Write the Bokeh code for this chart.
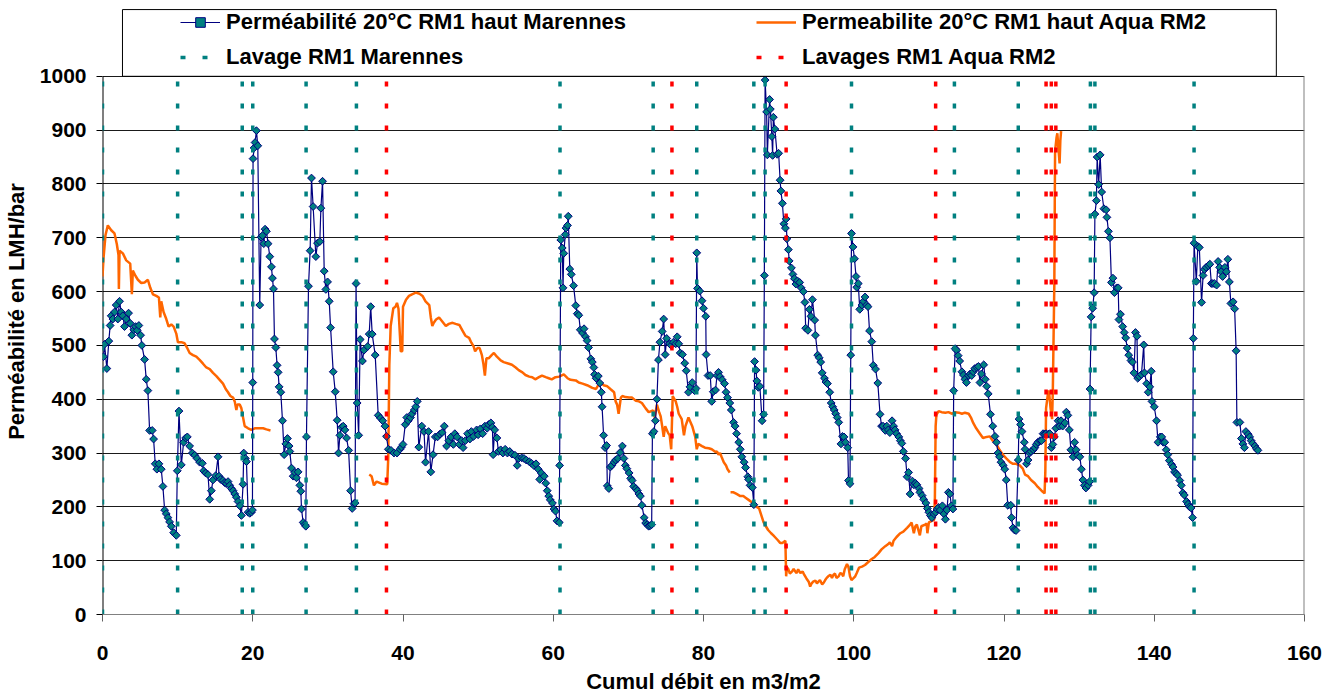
import numpy as np
from bokeh.plotting import figure
from bokeh.models import Legend, LegendItem, BoxAnnotation, Range1d, FixedTicker
from bokeh.embed import file_html
from bokeh.resources import INLINE

# ---------------- data ----------------
perm_x = [0.13,0.27,0.58,0.84,1.02,1.16,1.38,1.6,1.82,2.04,2.27,2.49,2.71,2.93,3.16,3.47,3.69,3.91,4.18,4.4,4.62,4.84,5.07,5.24,5.6,5.82,6.04,6.27,6.62,6.8,7.02,7.24,7.51,7.82,8.04,8.27,8.49,8.71,8.93,9.16,9.47,9.82,
  9.96,10.18,10.49,10.8,11.07,11.29,11.6,11.96,12.27,12.58,12.93,13.29,13.47,13.73,14.04,14.27,14.49,14.71,15.07,15.38,15.51,15.73,16.04,16.27,16.49,16.71,16.93,17.16,17.38,17.6,17.82,18.04,18.27,18.49,
  18.71,18.8,19.02,19.16,19.38,19.6,19.82,19.96,
  20.0,20.04,20.18,20.31,20.49,20.67,20.93,21.11,21.29,21.47,21.64,21.82,22.04,22.27,22.49,22.62,22.76,22.89,23.07,23.24,23.38,23.51,23.73,23.96,24.18,24.4,24.62,24.84,24.93,25.16,25.38,25.6,25.82,26.04,26.27,26.4,26.49,26.71,26.93,27.06,
  27.15,27.42,27.64,27.82,28.04,28.4,28.62,28.93,29.07,29.29,29.51,29.73,29.96,30.18,30.36,30.71,30.98,31.24,31.42,31.6,31.82,32.04,32.27,32.49,32.76,33.02,33.24,33.47,33.62,
  33.75,33.9,34.1,34.3,34.6,34.8,35.3,35.5,35.7,35.9,36.3,36.7,37.0,37.3,37.6,37.8,38.05,38.4,38.8,39.2,39.6,39.8,40.0,40.3,40.5,40.7,41.0,41.2,41.5,41.7,41.9,42.1,42.5,42.8,43.0,43.4,43.7,44.0,44.3,44.6,44.9,45.2,45.5,45.8,46.1,46.4,46.7,46.9,47.2,47.5,47.8,48.0,48.3,48.6,48.9,49.1,49.4,49.8,50.0,50.3,50.6,50.9,51.2,51.4,51.7,51.9,52.0,52.2,52.5,52.7,53.0,53.3,53.6,53.9,54.2,54.5,54.9,55.2,55.4,55.8,56.1,56.4,56.8,57.1,57.4,57.7,58.0,58.2,58.4,58.8,59.0,59.2,59.4,59.6,59.9,60.1,60.3,60.5,60.8,
  60.85,61.0,61.2,61.3,61.4,61.6,61.7,61.9,62.0,62.2,62.4,62.7,63.0,63.2,63.4,63.6,63.9,64.1,64.3,64.5,64.7,65.0,65.2,65.4,65.5,65.7,66.0,66.2,66.4,66.5,66.7,66.9,67.1,67.2,67.4,67.6,67.8,68.1,68.3,68.6,68.9,69.2,69.4,69.6,69.8,70.1,70.3,70.5,70.7,71.0,71.2,71.4,71.6,71.8,72.1,72.3,72.5,72.7,72.9,73.1,
  73.2,73.4,73.6,73.8,74.0,74.2,74.5,74.7,74.9,75.1,75.5,75.7,76.0,76.3,76.5,76.7,76.9,77.2,77.5,77.7,78.0,78.2,78.5,78.8,79.0,
  79.1,79.2,79.5,79.8,80.0,80.3,80.35,80.6,80.9,81.1,81.3,81.6,81.8,82.0,82.2,82.5,82.8,83.0,83.2,83.5,83.7,84.0,84.2,84.4,84.7,84.9,85.1,85.4,85.6,85.9,86.0,86.2,86.5,86.7,
  86.8,87.0,87.1,87.3,87.5,87.8,88.0,
  88.1,88.2,88.4,88.5,88.8,88.9,89.1,89.2,89.3,89.5,89.8,90.0,90.2,90.3,90.5,90.7,90.9,91.0,91.1,91.3,91.4,91.7,91.9,92.1,92.3,92.5,92.8,93.0,93.3,93.5,93.6,93.9,94.1,94.3,94.5,94.8,94.9,95.2,95.4,95.6,95.8,96.1,96.3,96.5,96.8,97.0,97.2,97.4,97.6,97.8,98.0,98.3,98.5,98.7,98.9,99.2,99.3,99.5,
  99.6,99.7,99.9,100.1,100.3,100.4,100.6,100.8,101.1,101.3,101.5,101.7,101.9,102.1,102.4,102.6,102.9,103.2,103.5,103.7,103.9,104.2,104.4,104.6,104.8,105.1,105.3,105.5,105.7,106.0,106.2,106.4,106.6,106.9,107.1,107.3,107.5,107.8,108.0,108.2,108.4,108.7,108.8,109.1,109.3,109.6,109.8,110.0,110.2,110.4,110.7,110.9,111.1,111.3,111.5,111.8,112.0,112.2,112.4,112.6,112.8,113.0,113.2,
  113.3,113.5,113.7,113.9,114.1,114.4,114.6,114.8,115.0,115.3,115.5,115.7,115.9,116.1,116.4,116.6,116.8,117.0,117.3,117.5,117.7,117.9,118.2,118.5,118.8,119.0,119.2,119.4,119.6,119.9,120.1,120.3,120.5,120.9,121.0,121.2,121.4,121.6,
  121.9,122.0,122.2,122.4,122.7,122.8,123.0,123.2,123.4,123.6,123.9,124.1,124.3,124.5,124.8,125.0,125.2,125.4,125.6,125.9,126.1,126.3,126.5,126.7,126.9,127.2,127.4,127.6,127.8,128.1,128.3,128.5,128.7,128.9,129.2,129.4,129.6,129.8,130.1,130.3,130.5,130.7,130.9,131.2,131.4,
  131.45,131.6,131.8,132.0,132.1,132.3,132.4,132.6,132.8,133.0,133.3,133.6,133.7,133.9,134.1,134.3,134.5,134.7,135.0,135.2,135.3,135.5,135.8,136.0,136.2,136.4,136.6,136.9,137.1,137.3,137.5,137.7,137.8,138.0,138.3,138.6,138.7,139.0,139.2,139.4,139.6,139.7,140.0,140.3,140.5,140.8,141.0,141.2,141.4,141.6,141.8,142.0,142.3,142.5,142.7,142.9,143.1,143.4,143.6,143.8,144.0,144.3,144.5,144.7,144.9,145.1,
  145.2,145.3,145.6,145.8,146.0,146.3,146.5,146.7,146.9,147.2,147.4,147.6,147.8,148.0,148.3,148.5,148.7,148.9,149.1,149.4,149.6,149.8,150.0,150.2,150.5,150.7,150.9,151.0,151.4,151.6,151.8,152.0,152.2,152.5,152.7,152.9,153.1,153.4,153.6,153.8]
perm_y = [479,502,457,508,537,555,549,562,575,549,582,562,555,535,549,560,541,519,529,535,528,537,519,500,474,437,416,342,342,326,280,270,280,270,238,194,187,180,172,164,152,147,
  267,378,278,320,328,330,313,300,296,290,283,281,267,263,260,214,230,250,258,293,257,251,249,245,243,247,240,234,230,224,218,210,202,184,
  242,300,290,284,190,188,190,194,
  431,847,867,877,899,871,575,701,704,689,716,712,689,665,646,625,605,512,496,463,450,423,413,360,297,317,327,313,303,272,257,264,254,265,240,229,196,171,167,164,
  330,610,676,811,758,665,690,693,755,805,638,604,618,582,533,451,414,361,300,333,348,350,343,328,305,230,197,206,207,
  615,393,333,511,471,491,498,521,572,521,482,370,365,360,350,331,307,305,300,300,307,311,316,353,366,360,366,373,380,386,396,311,350,340,283,340,265,297,330,330,335,338,350,313,323,330,316,336,330,316,323,310,323,336,326,340,331,343,334,345,336,350,346,353,356,348,297,343,328,303,306,300,307,300,303,298,296,277,290,291,290,287,284,281,277,280,270,251,263,257,244,230,220,213,207,196,192,174,171,
  277,696,681,607,671,706,718,723,740,642,632,611,574,559,556,529,523,531,516,509,496,475,469,459,446,439,443,430,413,386,333,310,314,239,234,274,277,283,287,290,301,313,290,277,271,263,253,249,238,234,230,224,220,203,180,170,167,164,165,167,
  336,340,360,400,473,506,526,549,483,513,503,500,506,503,516,503,486,483,467,453,413,423,431,416,420,
  672,606,601,583,569,554,483,444,444,396,414,417,444,450,442,436,429,413,403,393,380,357,350,336,320,307,293,283,273,256,251,240,236,204,
  470,454,434,422,424,360,372,
  630,993,934,854,957,939,888,853,924,902,855,857,807,787,764,726,718,735,698,678,657,644,632,624,614,620,617,607,600,580,532,528,567,554,585,547,519,482,477,469,449,439,432,429,413,393,386,380,373,366,357,317,331,330,320,310,249,243,
  482,708,683,661,628,608,615,567,575,582,590,575,572,527,507,463,456,430,372,350,350,342,350,343,338,360,350,343,336,330,323,318,303,290,256,264,224,248,241,244,241,234,227,221,214,207,197,190,184,180,187,190,196,199,194,202,187,177,194,227,224,202,196,
  416,494,491,481,471,451,445,437,431,444,447,444,451,457,459,461,431,447,464,437,424,410,372,350,331,320,300,293,283,277,270,250,203,203,180,161,157,156,
  287,363,353,340,320,307,280,287,300,303,306,310,316,320,323,323,336,335,336,335,336,310,316,330,346,360,350,360,350,356,376,370,343,306,293,320,306,296,293,270,250,240,235,240,247,
  419,553,569,598,744,769,850,799,854,785,754,752,738,712,700,617,625,598,607,607,548,558,535,524,514,495,482,472,469,449,524,517,439,442,446,501,449,429,413,423,452,396,386,360,320,330,330,320,320,306,297,286,279,274,265,262,259,249,240,226,222,210,205,200,198,180,
  513,690,619,684,682,580,630,641,645,648,651,615,615,615,612,656,645,637,628,645,637,660,618,578,581,568,490,357,357,327,317,310,340,335,330,323,318,313,308,305]

aqua_x1 = [0,0.13,0.4,0.71,1.16,1.6,1.91,2.13,2.18,2.27,2.71,3.16,3.69,3.91,4.04,4.4,4.71,5.16,5.6,6.04,6.36,6.71,7.16,7.51,7.69,7.82,8.13,8.49,8.8,9.16,9.47,9.82,10.04,10.49,10.93,11.24,11.6,12.04,12.49,12.93,13.38,13.82,14.27,14.71,15.16,15.6,16.04,16.4,16.71,17.02,17.38,17.6,17.82,17.96,18.27,18.49,18.71,18.93,19.38,19.82,20.27,20.71,21.38,21.82,22.36]
aqua_y1 = [628,661,705,723,714,708,688,668,605,676,671,658,652,595,639,629,622,616,617,622,607,595,592,589,552,582,562,549,535,539,535,522,506,506,504,496,486,482,479,473,466,459,456,449,443,436,429,419,413,406,403,396,380,390,390,383,366,350,346,343,346,346,346,344,342]
aqua_x2 = [35.51,35.82,36.13,36.49,37.16,37.9,38.04,38.18,38.36,38.71,39.0,39.2,39.4,39.6,39.7,39.9,40.0,40.4,40.8,41.2,41.7,42.2,42.6,43.0,43.5,43.7,43.9,44.1,44.4,44.8,45.2,45.7,46.1,46.6,47.0,47.5,47.9,48.3,48.8,49.1,49.4,49.6,49.9,50.2,50.5,50.7,50.9,51.1,51.4,51.8,52.1,52.5,53.0,53.4,54.1,54.5,55.0,55.4,55.9,56.3,56.8,57.2,57.6,58.1,58.5,59.0,59.4,59.8,60.3,60.8,61.4,61.9,62.3,63.0,63.4,63.9,64.5,65.2,65.7,66.1,66.4,66.7,67.2,67.6,68.1,68.3,68.5,68.7,69.0,69.2,69.6,70.1,70.5,71.0,71.4,71.8,72.3,72.7,73.3,73.5,73.8,74.1,74.3,74.5,74.7,74.9,75.3,75.5,75.7,75.9,76.3,76.5,76.7,77.1,77.4,77.6,78.0,78.5,78.9,79.1,79.3,79.8,80.2,80.7,81.1,81.6,81.8,82.0,82.2,82.4,82.7,83.0,83.2,83.5]
aqua_y2 = [260,257,240,247,243,242,293,463,536,569,572,579,568,516,489,489,572,585,592,595,598,596,592,582,575,552,536,542,548,552,545,536,540,542,540,538,528,518,514,505,498,489,495,495,482,466,444,476,476,482,486,479,472,469,466,464,459,454,450,445,442,441,437,441,444,441,439,437,441,442,446,439,436,435,431,429,426,421,419,429,431,426,424,419,413,396,390,373,403,406,404,403,403,397,396,393,383,376,379,366,390,376,368,350,330,350,337,333,307,406,396,386,373,363,333,350,366,350,330,307,317,313,310,309,307,302,303,297,300,293,283,277,270,264]
aqua_x3 = [83.6,84.0,84.4,84.9,85.3,85.6,86.0,86.3,86.7,87.1,87.4,87.7,88.0,88.3,88.6,89.0,89.3,89.5,89.9,90.2,90.5,90.9,91.0,91.1,91.3,91.5,91.8,92.0,92.2,92.4,92.6,92.9,93.2,93.4,93.7,94.0,94.2,94.4,94.6,94.9,95.1,95.3,95.5,95.8,96.0,96.2,96.4,96.6,96.9,97.1,97.3,97.5,97.7,98.0,98.2,98.4,98.6,98.8,99.1,99.3,99.5,99.7,100.0,100.2,100.4,100.7,101.1,101.5,101.9,102.4,102.8,103.3,103.7,104.2,104.6,104.8,105.1,105.3,105.7,106.2,106.6,107.1,107.5,107.7,108.0,108.2,108.4,108.6,108.8,109.0,109.5,109.7,109.8,110.0,110.4,110.7,110.8,110.9,111.0,111.3,111.7,112.2,112.6,113.1,113.5,114.0,114.4,114.8,115.3,115.6,115.9,116.3,116.8,117.2,117.7,118.1,118.5,119.0,119.4,119.9,120.3,120.8,121.2,121.6,122.1,122.5,122.8,123.2,123.6,124.1,124.5,125.0,125.4,125.5,125.6,125.9,126.0,126.2,126.4,126.5,126.7,126.75,126.8,127.0,127.1,127.2,127.4,127.5,127.6]
aqua_y3 = [227,227,224,220,220,217,213,210,204,200,197,184,171,164,157,151,147,144,138,133,133,137,71,88,84,76,80,85,80,77,84,77,80,74,67,61,52,58,61,63,58,61,64,56,59,64,68,71,74,68,74,76,68,71,77,76,71,84,94,88,71,64,68,71,77,87,89,92,97,103,107,114,121,127,131,134,127,137,144,151,154,161,167,171,151,164,167,157,147,164,167,169,151,171,174,176,217,350,371,378,376,375,376,373,376,375,373,375,373,366,356,346,336,328,330,331,323,316,306,296,290,283,280,280,277,271,260,257,250,244,237,230,225,264,383,416,413,383,363,416,615,748,861,887,894,874,838,881,898]

lavage_marennes = [0, 10, 18.6, 20, 27.1, 33.8, 60.9, 73.3, 79.1, 86.7, 88.2, 99.7, 113.4, 121.9, 131.5, 132.1, 145.3]
lavages_aqua = [37.8, 75.8, 91.0, 110.9, 125.6, 126.3, 126.9]

x_ticks = [0, 20, 40, 60, 80, 100, 120, 140, 160]
y_ticks = [0, 100, 200, 300, 400, 500, 600, 700, 800, 900, 1000]

labels = ["Perméabilité 20°C RM1 haut Marennes", "Permeabilite 20°C RM1 haut Aqua RM2",
          "Lavage RM1 Marennes", "Lavages RM1 Aqua RM2"]

# ---------------- figure ----------------
FONT = "Liberation Sans"
Y_TOP = 1126  # extra head-room above 1000 hosts the legend box
p = figure(width=1340, height=696, output_backend="svg", toolbar_location=None,
           x_range=Range1d(x_ticks[0], x_ticks[-1]), y_range=Range1d(y_ticks[0], Y_TOP),
           min_border_left=101, min_border_right=36, min_border_top=8, min_border_bottom=81)
p.background_fill_color = "white"
p.border_fill_color = "white"
p.outline_line_color = None

p.xgrid.grid_line_color = None
p.ygrid.grid_line_color = "#1a1a1a"
p.ygrid.grid_line_width = 1
p.ygrid.ticker = FixedTicker(ticks=y_ticks)

p.xaxis.ticker = FixedTicker(ticks=x_ticks)
p.yaxis.ticker = FixedTicker(ticks=y_ticks)
p.xaxis.minor_tick_line_color = None
p.yaxis.minor_tick_line_color = None
p.xaxis.major_tick_in = 0
p.xaxis.major_tick_out = 7
p.yaxis.major_tick_in = 0
p.yaxis.major_tick_out = 6
p.xaxis.axis_line_color = "#808080"
p.xaxis.major_tick_line_color = "#606060"
p.yaxis.axis_line_color = None
p.yaxis.major_tick_line_color = "black"

for ax in (p.xaxis, p.yaxis):
    ax.major_label_text_font = FONT
    ax.major_label_text_font_style = "bold"
    ax.major_label_text_font_size = "21px"
    ax.major_label_text_color = "black"
    ax.axis_label_text_font = FONT
    ax.axis_label_text_font_style = "bold"
    ax.axis_label_text_font_size = "22px"
    ax.axis_label_text_color = "black"

p.xaxis.axis_label = "Cumul débit en m3/m2"
p.yaxis.axis_label = "Perméabilité en LMH/bar"
p.xaxis.major_label_standoff = 24
p.xaxis.axis_label_standoff = 6
p.yaxis.major_label_standoff = 10
p.yaxis.axis_label_standoff = 8

# plot-area borders (left axis line black, right border grey), only over 0..1000
p.segment(x0=[x_ticks[0]], y0=[y_ticks[0]], x1=[x_ticks[0]], y1=[y_ticks[-1]], line_color="black", line_width=2)
p.segment(x0=[x_ticks[-1]], y0=[y_ticks[0]], x1=[x_ticks[-1]], y1=[y_ticks[-1]], line_color="#808080", line_width=2)

# orange series (segments separated by gaps)
nan = float("nan")
aqua_x = aqua_x1 + [nan] + aqua_x2 + [nan] + aqua_x3
aqua_y = aqua_y1 + [nan] + aqua_y2 + [nan] + aqua_y3
r_orange = p.line(aqua_x, aqua_y, line_color="#FF6600", line_width=2.5)

# blue series
r_blue_line = p.line(perm_x, perm_y, line_color="#000080", line_width=1.2)
r_blue_pts = p.scatter(perm_x, perm_y, marker="square", angle=np.pi / 4, size=5.5,
                       fill_color="#008080", line_color="#000080", line_width=1)

# washing events (vertical dashed lines)
nm = len(lavage_marennes)
na = len(lavages_aqua)
r_teal = p.segment(x0=lavage_marennes, y0=[y_ticks[0]] * nm, x1=lavage_marennes, y1=[y_ticks[-1]] * nm,
                   line_color="#008080", line_width=3.5, line_dash="5 17")
r_red = p.segment(x0=lavages_aqua, y0=[y_ticks[0]] * na, x1=lavages_aqua, y1=[y_ticks[-1]] * na,
                  line_color="#FF0000", line_width=3.5, line_dash="5 17")

# legend frame
box = BoxAnnotation(left=2.66, right=156.25, bottom=1000, top=1124,
                    fill_alpha=0, line_color="black", line_width=1, line_alpha=1)
p.add_layout(box)

def make_legend(items, x):
    return Legend(items=items, location=(x, 539), orientation="vertical",
                  label_text_font=FONT, label_text_font_style="bold", label_text_font_size="22px",
                  label_text_color="black", glyph_width=40, glyph_height=24, label_height=24,
                  label_standoff=6, spacing=9, padding=5, margin=0,
                  border_line_alpha=0, background_fill_alpha=0)

leg1 = make_legend([LegendItem(label=labels[0], renderers=[r_blue_line, r_blue_pts]),
                    LegendItem(label=labels[2], renderers=[r_teal])], 73)
leg2 = make_legend([LegendItem(label=labels[1], renderers=[r_orange]),
                    LegendItem(label=labels[3], renderers=[r_red])], 649)
p.add_layout(leg1)
p.add_layout(leg2)

open("out.html", "w").write(file_html(p, INLINE))
